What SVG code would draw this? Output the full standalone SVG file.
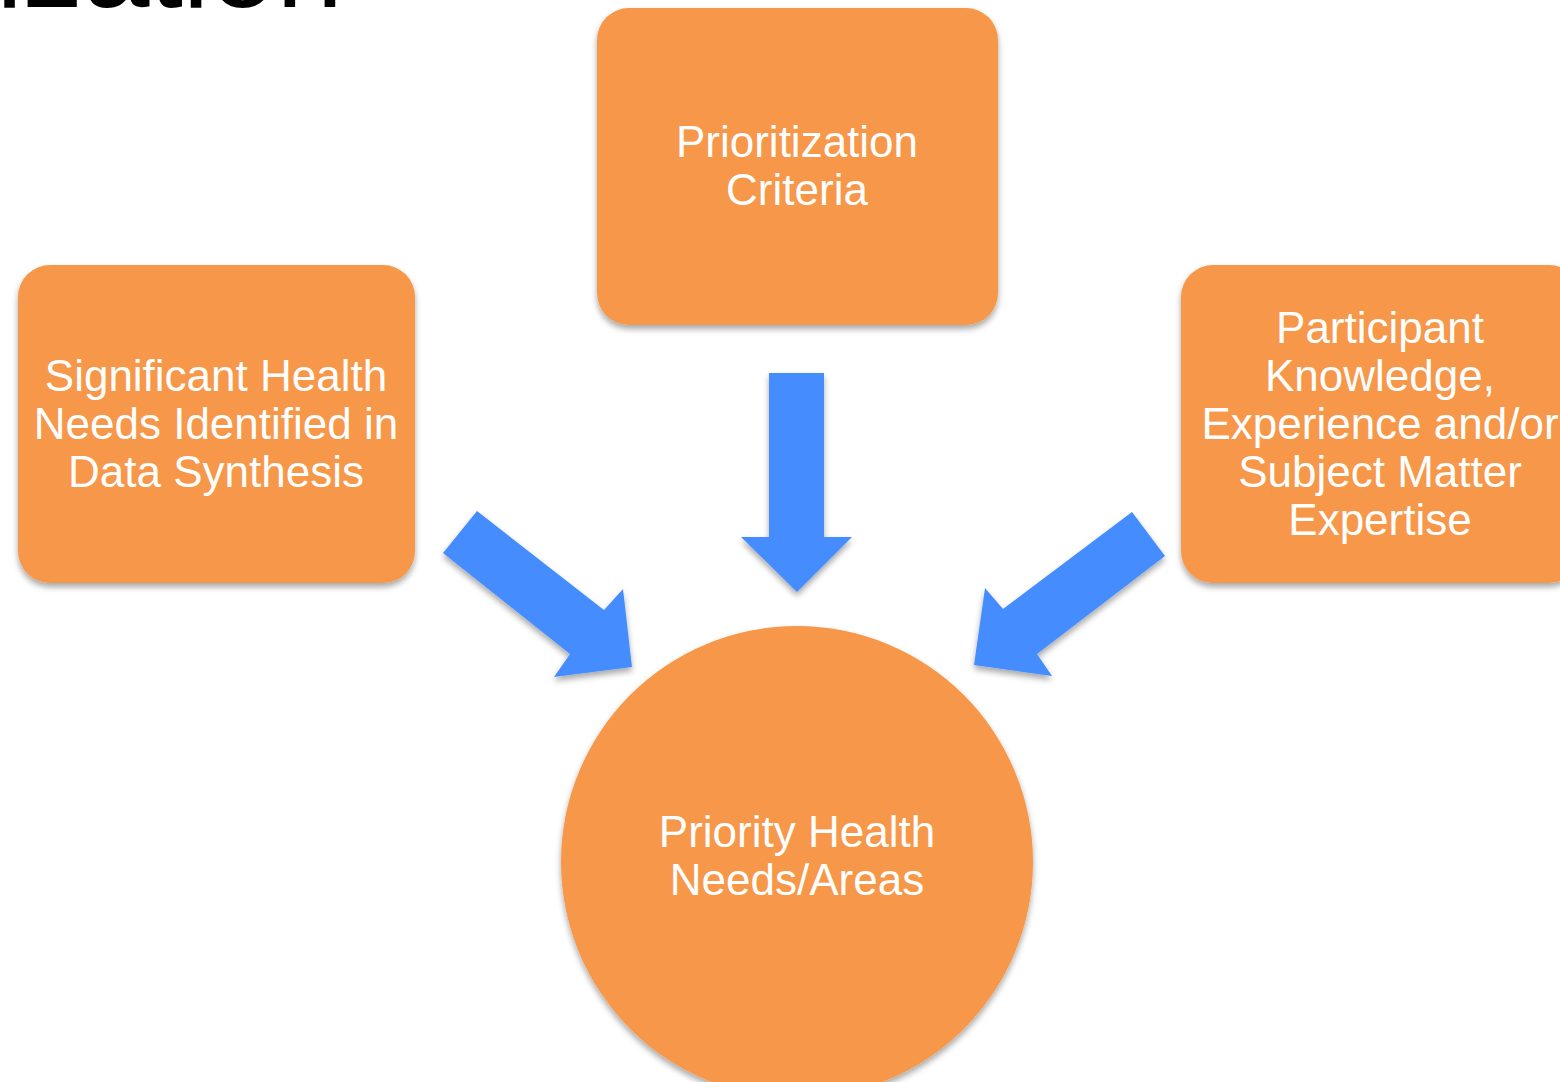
<svg xmlns="http://www.w3.org/2000/svg" width="1560" height="1082" viewBox="0 0 1560 1082">
<defs>
<filter id="sh" x="-10%" y="-10%" width="120%" height="125%">
<feGaussianBlur in="SourceAlpha" stdDeviation="3"/>
<feOffset dx="0" dy="4" result="b"/>
<feComponentTransfer><feFuncA type="linear" slope="0.35"/></feComponentTransfer>
<feMerge><feMergeNode/><feMergeNode in="SourceGraphic"/></feMerge>
</filter>
</defs>
<style>
.node{fill:#F79748;filter:url(#sh)}
.lbl{font-family:"Liberation Sans",Arial,sans-serif;font-size:44px;fill:#fff;text-anchor:middle}
.arrow{fill:#458DFE;filter:url(#sh)}
.title{font-family:"Liberation Sans",Arial,sans-serif;font-size:120px;fill:#000;text-anchor:end}
</style>
<rect width="1560" height="1082" fill="#fff"/>
<text class="title" x="343" y="7">Prioritization</text>
<g id="connectors">
<polygon class="arrow" points="769,373 824,373 824,537 852,537 797,592 741,537 769,537"/>
<polygon class="arrow" points="477,511 604,610 623,589 632,667 554,677 570,654 443,553"/>
<polygon class="arrow" points="1132,512 1165,556 1037,654 1052,676 974,665 985,588 1003,609"/>
</g>
<g id="node-criteria">
<rect class="node" x="597" y="8" width="401" height="317" rx="32"/>
<text class="lbl" x="797" y="157">Prioritization</text>
<text class="lbl" x="797" y="205">Criteria</text>
</g>
<g id="node-significant">
<rect class="node" x="18" y="265" width="397" height="318" rx="32"/>
<text class="lbl" x="216" y="391">Significant Health</text>
<text class="lbl" x="216" y="439">Needs Identified in</text>
<text class="lbl" x="216" y="487">Data Synthesis</text>
</g>
<g id="node-participant">
<rect class="node" x="1181" y="265" width="400" height="318" rx="32"/>
<text class="lbl" x="1380" y="343">Participant</text>
<text class="lbl" x="1380" y="391">Knowledge,</text>
<text class="lbl" x="1380" y="439">Experience and/or</text>
<text class="lbl" x="1380" y="487">Subject Matter</text>
<text class="lbl" x="1380" y="535">Expertise</text>
</g>
<g id="node-priority">
<circle class="node" cx="797" cy="862" r="236"/>
<text class="lbl" x="797" y="847">Priority Health</text>
<text class="lbl" x="797" y="895">Needs/Areas</text>
</g>
</svg>
